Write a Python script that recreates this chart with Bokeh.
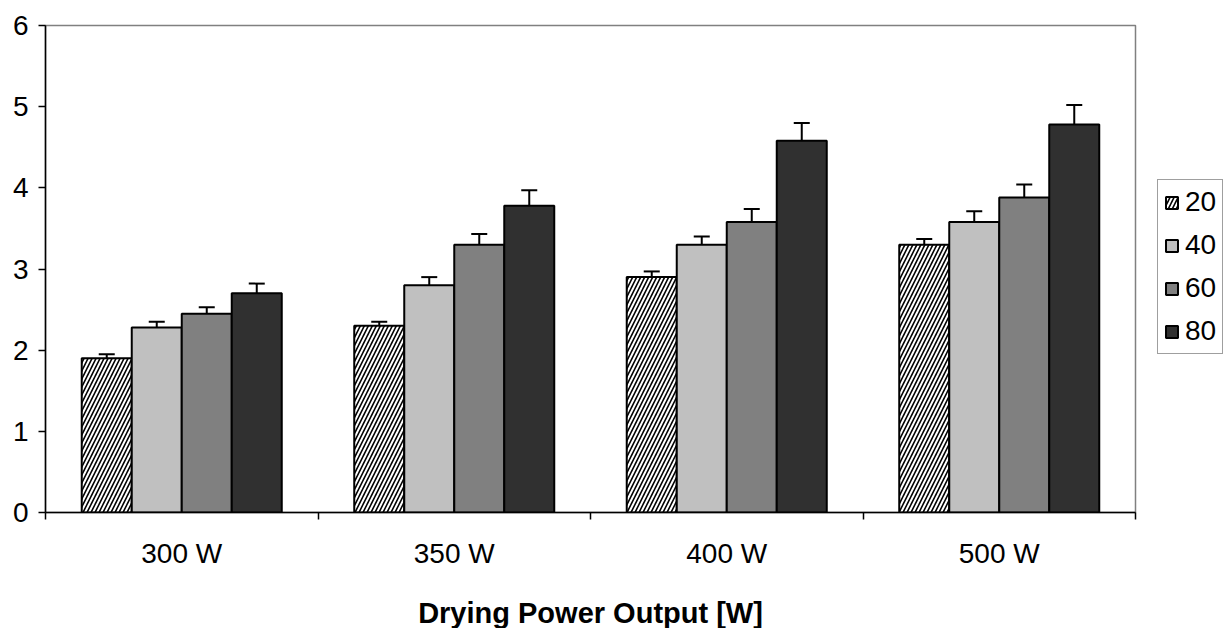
from bokeh.plotting import figure
from bokeh.models import (ColumnDataSource, Range1d, FixedTicker, Whisker, TeeHead,
                          Legend, LegendItem)
from bokeh.embed import file_html
from bokeh.resources import INLINE
import numpy as np

categories = ["300 W", "350 W", "400 W", "500 W"]
series = ["20", "40", "60", "80"]
values_20 = [1.9, 2.3, 2.9, 3.3]
values_40 = [2.28, 2.8, 3.3, 3.58]
values_60 = [2.45, 3.3, 3.58, 3.88]
values_80 = [2.7, 3.78, 4.58, 4.78]
err_20 = [0.05, 0.05, 0.07, 0.07]
err_40 = [0.07, 0.1, 0.1, 0.13]
err_60 = [0.08, 0.13, 0.16, 0.16]
err_80 = [0.12, 0.19, 0.22, 0.24]
y_ticks = [0, 1, 2, 3, 4, 5, 6]

fills = ["white", "#c0c0c0", "#808080", "#303030"]
hatches = ["right_diagonal_line", None, None, None]
all_vals = [values_20, values_40, values_60, values_80]
all_errs = [err_20, err_40, err_60, err_80]

FONT = "Liberation Sans"
bar_w = 0.1835
offsets = [-1.5 * bar_w, -0.5 * bar_w, 0.5 * bar_w, 1.5 * bar_w]
centers = np.arange(len(categories)) + 0.5

p = figure(frame_width=1090, frame_height=487, output_backend="svg", toolbar_location=None,
           x_range=Range1d(0, len(categories)), y_range=Range1d(0, 6),
           min_border_left=45, min_border_top=25, min_border_right=92,
           min_border_bottom=116)
p.grid.visible = False
p.outline_line_color = "#808080"
p.outline_line_width = 1.5
p.background_fill_color = "white"
p.border_fill_color = "white"

items = []
for i in range(4):
    x = centers + offsets[i]
    vals = np.array(all_vals[i])
    errs = np.array(all_errs[i])
    src = ColumnDataSource(dict(x=x, top=vals, upper=vals + errs))
    kw = {}
    if hatches[i]:
        kw = dict(hatch_pattern=hatches[i], hatch_color="black", hatch_scale=8,
                  hatch_weight=1.6)
    r = p.vbar(x="x", top="top", width=bar_w, source=src, fill_color=fills[i],
               line_color="black", line_width=2, **kw)
    w = Whisker(base="x", upper="upper", lower="top", source=src,
                line_color="black", line_width=2,
                upper_head=TeeHead(size=16, line_color="black", line_width=2),
                lower_head=None)
    p.add_layout(w)
    items.append(LegendItem(label=series[i], renderers=[r]))

# x axis
xa = p.xaxis[0]
xa.ticker = FixedTicker(ticks=list(centers), minor_ticks=list(range(len(categories) + 1)))
xa.major_label_overrides = {float(c): lab for c, lab in zip(centers, categories)}
xa.major_tick_line_color = None
xa.major_tick_out = 0
xa.major_tick_in = 0
xa.minor_tick_out = 7
xa.minor_tick_in = 0
xa.minor_tick_line_color = "black"
xa.minor_tick_line_width = 1.5
xa.axis_line_color = "black"
xa.axis_line_width = 1.5
xa.major_label_standoff = 18
xa.major_label_text_font = FONT
xa.major_label_text_font_size = "28px"
xa.major_label_text_color = "black"
xa.axis_label = "Drying Power Output [W]"
xa.axis_label_text_font = FONT
xa.axis_label_text_font_style = "bold"
xa.axis_label_text_font_size = "29px"
xa.axis_label_text_color = "black"
xa.axis_label_standoff = 25

ya = p.yaxis[0]
ya.ticker = FixedTicker(ticks=y_ticks, minor_ticks=[])
ya.major_tick_out = 7
ya.major_tick_in = 0
ya.major_tick_line_width = 1.5
ya.major_tick_line_color = "black"
ya.axis_line_color = "black"
ya.axis_line_width = 1.5
ya.major_label_standoff = 10
ya.major_label_text_font = FONT
ya.major_label_text_font_size = "28px"
ya.major_label_text_color = "black"

legend = Legend(items=items, location=(22, 158), orientation="vertical",
                label_text_font=FONT, label_text_font_size="28px",
                label_text_color="black",
                glyph_width=15, glyph_height=15, spacing=11, padding=6,
                border_line_color="#404040", border_line_width=1,
                label_standoff=6, margin=0, background_fill_alpha=1)
p.add_layout(legend, "right")

open("out.html", "w").write(file_html(p, INLINE))
